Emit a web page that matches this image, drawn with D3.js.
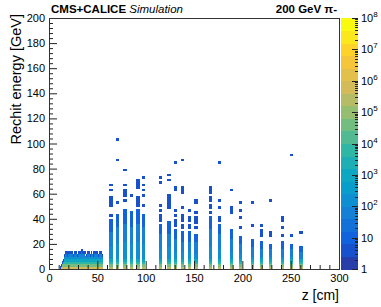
<!DOCTYPE html>
<html>
<head>
<meta charset="utf-8">
<script src="https://cdn.jsdelivr.net/npm/d3@7"></script>
<style>
  body { margin: 0; background: #fff; }
  text { font-family: "Liberation Sans", Arial, Helvetica, sans-serif; fill: #000; }
</style>
</head>
<body>
<div id="chart"></div>
<script>
// canvas and frame
var width = 381
var height = 307
var frame = { left: 49, right: 339, top: 18, bottom: 269 }
var cbar = { left: 341, right: 358 }

// tick labels
var zTicks = [0, 50, 100, 150, 200, 250, 300]
var zMinor = [10, 20, 30, 40, 60, 70, 80, 90, 110, 120, 130, 140, 160, 170, 180, 190, 210, 220, 230, 240, 260, 270, 280, 290]
var eTicks = [0, 20, 40, 60, 80, 100, 120, 140, 160, 180, 200]
var cTicks = [0, 1, 2, 3, 4, 5, 6, 7, 8]   // log10 of counts

// ROOT kBird palette, 20 contours on a log z axis from 1 to 1e8
var birdColors = ['#352a87', '#0f5cdd', '#1481d6', '#06a4ca', '#2eb7a4', '#87bf77', '#d1bb59', '#fec832', '#f9fb0e']
var nContours = 20
var eBin = 2   // GeV per y bin

// front part (dense region), one bin per cm starting at eeStartZ
var eeStartZ = 11
var eeTops = [2, 4, 6, 8, 10, 12, 14, 14, 12, 14, 14, 14, 14, 14, 12, 14, 14, 14, 12, 14, 14, 14, 16, 16,
              14, 14, 14, 12, 14, 14, 14, 12, 14, 14, 14, 12, 14, 14, 14, 14, 12, 14, 14, 14, 12]
var eeCounts = [6e5, 4e4, 4e3, 900, 200, 40, 12, 4]   // per 2 GeV energy bin
var eeTopCount = 4
var eeHoles = [[18, 10], [21, 12], [37, 10], [44, 12], [50, 12]]   // [z, E] empty bins

// back part: layer positions, top of the filled column, isolated hits
var hcZ = [64, 71, 78.5, 85, 92, 98, 115, 124, 131, 138, 145, 152, 166.5, 176, 188.5, 198, 210, 219.5, 229, 241, 250.5, 260.5]
var hcTop = [40, 44, 48, 46, 48, 44, 36, 38, 32, 30, 30, 28, 42, 36, 32, 26, 24, 22, 20, 22, 20, 18]
var hcOutliers = [
  [43, 50, 52, 54, 56, 63, 67],
  [52, 87, 103],
  [55, 58, 60, 63, 67, 78],
  [59],
  [50, 52, 54, 56, 64, 66, 68, 70],
  [50, 58, 62, 67, 72],
  [38, 40, 42, 47, 51, 68, 72],
  [48, 50, 52, 54, 56, 58, 71, 75],
  [34, 36, 38, 42, 47, 62, 64, 85],
  [32, 34, 39, 41, 43, 48, 60, 62, 64, 87],
  [33, 35, 38, 41, 47],
  [32, 36, 38, 40, 44, 52, 54],
  [44, 48, 50, 54, 56, 60, 62, 64],
  [39, 41, 48, 54, 85],
  [44, 46, 48, 62],
  [32, 41, 46, 52],
  [34, 52],
  [26, 28, 31, 34],
  [27, 29, 54],
  [26, 32, 38, 41],
  [26, 91],
  [28]
]
var hcBottomCounts = [3e5, 3e4, 5e3, 1.5e3]   // first 4 energy bins
var hcUpper = [[0.45, 200], [0.75, 40], [1.0, 10]]   // [fraction of column top, counts]
var hcOutlierCount = 4
var hcWidth = 3   // cm

var svg = d3.select('#chart').append('svg')
    .attr('width', width)
    .attr('height', height)

var x = d3.scaleLinear().domain([0, 300]).range([frame.left, frame.right])
var y = d3.scaleLinear().domain([0, 200]).range([frame.bottom, frame.top])
var yc = d3.scaleLog().domain([1, 1e8]).range([frame.bottom, frame.top])

var pal = d3.piecewise(d3.interpolateRgb, birdColors)
function bandColor(k) {
  var idx = Math.floor((k + 0.99) * 255 / nContours)
  return pal(Math.min(idx, 254) / 254)
}
function countColor(c) {
  var k = Math.floor(nContours * Math.log10(c) / 8 + 0.01)
  k = Math.max(0, Math.min(nContours - 1, k))
  return bandColor(k)
}

// build the cells
var cells = []
eeTops.forEach(function(top, i) {
  var z = eeStartZ + i
  var nb = top / eBin
  for (var b = 0; b < nb; b++) {
    var isHole = eeHoles.some(function(h) { return h[0] === z && Math.floor(h[1] / eBin) === b })
    if (isHole) continue
    var c = b === nb - 1 ? Math.min(eeCounts[b], eeTopCount) : eeCounts[b]
    cells.push({ z0: z, z1: z + 1, e0: b * eBin, c: c })
  }
})
hcZ.forEach(function(z, j) {
  var nb = Math.round(hcTop[j] / eBin)
  for (var b = 0; b < nb; b++) {
    var c
    if (b < hcBottomCounts.length) c = hcBottomCounts[b]
    else {
      var f = (b + 0.5) * eBin / hcTop[j]
      c = hcUpper.find(function(p) { return f <= p[0] })[1]
    }
    cells.push({ z0: z - hcWidth / 2, z1: z + hcWidth / 2, e0: b * eBin, c: c })
  }
  hcOutliers[j].forEach(function(e) {
    cells.push({ z0: z - hcWidth / 2, z1: z + hcWidth / 2, e0: Math.floor(e / eBin) * eBin, c: hcOutlierCount })
  })
})

svg.append('g')
  .selectAll('rect')
  .data(cells)
  .enter()
  .append('rect')
    .attr('x', function(d) { return x(d.z0) })
    .attr('y', function(d) { return y(d.e0 + eBin) })
    .attr('width', function(d) { return x(d.z1) - x(d.z0) + 0.3 })
    .attr('height', function(d) { return y(d.e0) - y(d.e0 + eBin) + 0.3 })
    .attr('fill', function(d) { return countColor(d.c) })
    .attr('shape-rendering', 'crispEdges')

// axes, ticks inside the frame like ROOT
var xAxis = svg.append('g')
  .attr('transform', 'translate(0,' + frame.bottom + ')')
  .call(d3.axisBottom(x).tickValues(zTicks).tickSize(-8).tickPadding(5).tickFormat(d3.format('d')))
svg.append('g')
  .attr('transform', 'translate(0,' + frame.bottom + ')')
  .call(d3.axisBottom(x).tickValues(zMinor).tickSize(-4).tickFormat(''))

var eMinor = d3.range(0, 201, 4).filter(function(v) { return v % 20 !== 0 })
svg.append('g')
  .attr('transform', 'translate(' + frame.left + ',0)')
  .call(d3.axisLeft(y).tickValues(eTicks).tickSize(-8).tickPadding(4).tickFormat(d3.format('d')))
svg.append('g')
  .attr('transform', 'translate(' + frame.left + ',0)')
  .call(d3.axisLeft(y).tickValues(eMinor).tickSize(-4).tickFormat(''))

svg.selectAll('.domain').remove()
svg.selectAll('.tick line').attr('stroke', '#222')
svg.selectAll('.tick text').style('font-size', '11px').style('font-family', '"Liberation Sans", Arial, sans-serif')

// frame
svg.append('rect')
  .attr('x', frame.left + 0.5)
  .attr('y', frame.top + 0.5)
  .attr('width', frame.right - frame.left)
  .attr('height', frame.bottom - frame.top)
  .attr('fill', 'none')
  .attr('stroke', '#333')

// colour bar
var bands = d3.range(nContours)
svg.append('g')
  .selectAll('rect')
  .data(bands)
  .enter()
  .append('rect')
    .attr('x', cbar.left)
    .attr('y', function(k) { return yc(Math.pow(10, 8 * (k + 1) / nContours)) })
    .attr('width', cbar.right - cbar.left)
    .attr('height', function(k) { return yc(Math.pow(10, 8 * k / nContours)) - yc(Math.pow(10, 8 * (k + 1) / nContours)) + 0.5 })
    .attr('fill', function(k) { return bandColor(k) })
    .attr('shape-rendering', 'crispEdges')

var cMinor = []
cTicks.slice(0, -1).forEach(function(n) {
  for (var m = 2; m < 10; m++) cMinor.push(m * Math.pow(10, n))
})
svg.append('g')
  .selectAll('line.cmaj')
  .data(cTicks)
  .enter()
  .append('line')
    .attr('x1', cbar.right - 6).attr('x2', cbar.right)
    .attr('y1', function(n) { return Math.round(yc(Math.pow(10, n))) + 0.5 })
    .attr('y2', function(n) { return Math.round(yc(Math.pow(10, n))) + 0.5 })
    .attr('stroke', '#222')
svg.append('g')
  .selectAll('line.cmin')
  .data(cMinor)
  .enter()
  .append('line')
    .attr('x1', cbar.right - 3).attr('x2', cbar.right)
    .attr('y1', function(v) { return Math.round(yc(v)) + 0.5 })
    .attr('y2', function(v) { return Math.round(yc(v)) + 0.5 })
    .attr('stroke', '#222')

var cLabels = svg.append('g')
  .selectAll('text')
  .data(cTicks)
  .enter()
  .append('text')
    .attr('x', cbar.right + 3)
    .attr('y', function(n) { return yc(Math.pow(10, n)) + 4 })
    .style('font-size', '11px')
cLabels.append('tspan').text(function(n) { return n === 0 ? '1' : '10' })
cLabels.filter(function(n) { return n > 1 })
  .append('tspan')
    .attr('dy', -5)
    .style('font-size', '8px')
    .text(function(n) { return n })

// titles
var head = svg.append('text')
  .attr('x', 51)
  .attr('y', 13)
  .style('font-size', '11.5px')
head.append('tspan').style('font-weight', 'bold').text('CMS+CALICE')
head.append('tspan').style('font-style', 'italic').text(' Simulation')

svg.append('text')
  .attr('x', 337)
  .attr('y', 13)
  .attr('text-anchor', 'end')
  .style('font-size', '11.5px')
  .style('font-weight', 'bold')
  .text('200 GeV \u03c0-')

svg.append('text')
  .attr('transform', 'translate(21,' + 14 + ') rotate(-90)')
  .attr('text-anchor', 'end')
  .style('font-size', '14.5px')
  .text('Rechit energy [GeV]')

svg.append('text')
  .attr('x', 339)
  .attr('y', 300)
  .attr('text-anchor', 'end')
  .style('font-size', '14px')
  .text('z [cm]')
</script>
</body>
</html>
